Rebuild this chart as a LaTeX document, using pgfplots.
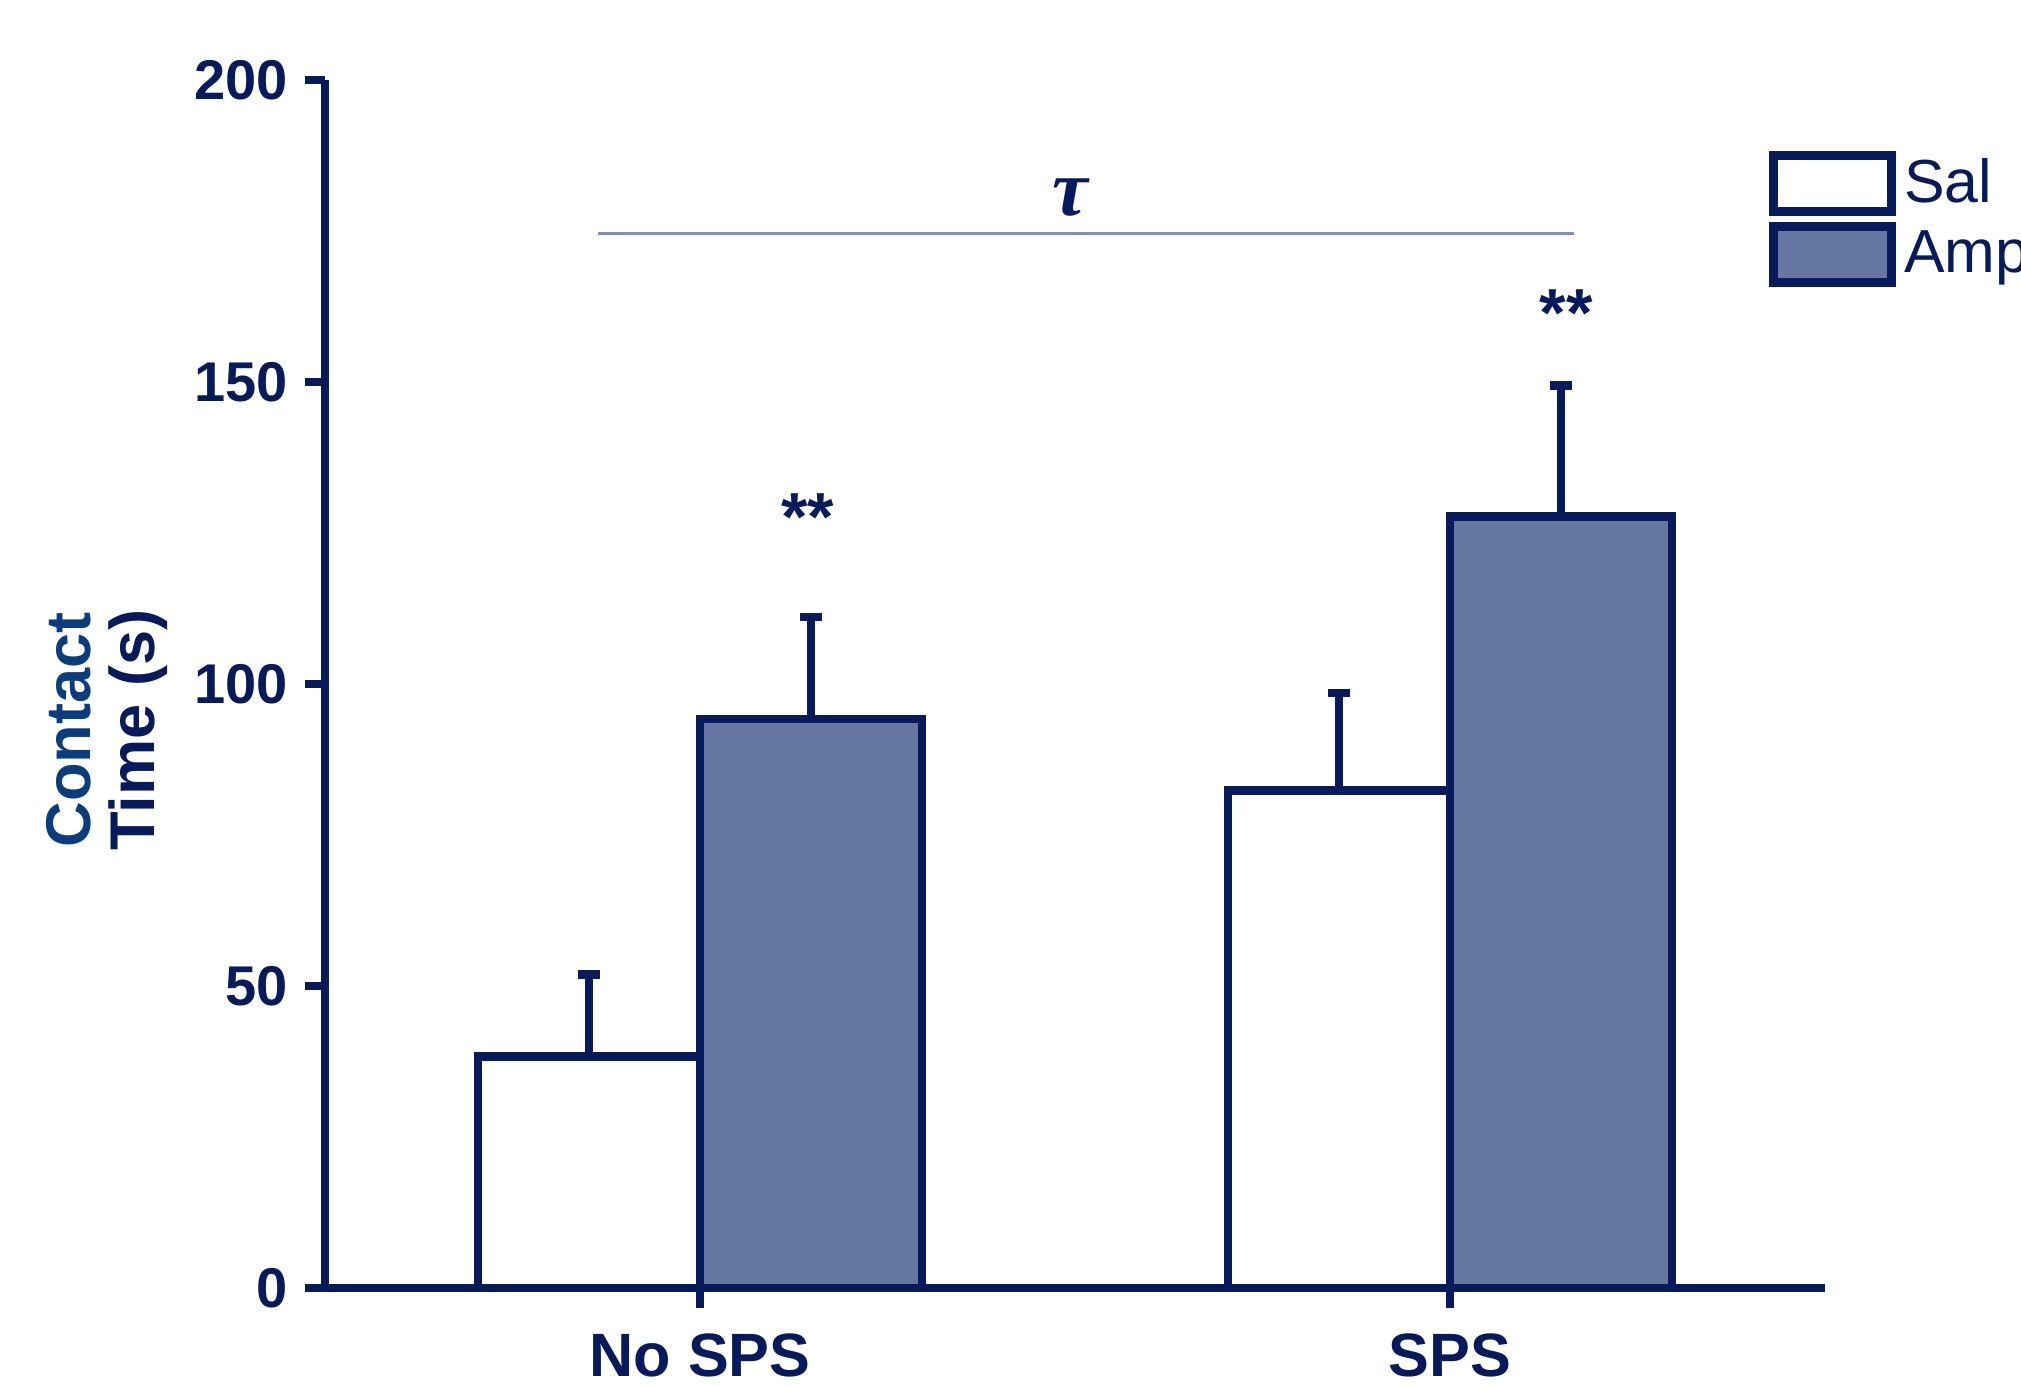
\documentclass[border=0pt]{standalone}
\usepackage{pgfplots}
\pgfplotsset{compat=1.18}
\usepackage{fontspec}
\setmainfont{Liberation Sans}
\newfontfamily\greekfont{Liberation Serif}
\definecolor{navy}{HTML}{061A5C}
\definecolor{ampfill}{HTML}{6577A0}
\definecolor{labblue}{HTML}{0B3C7D}
\definecolor{tauline}{HTML}{7F8FB8}
\begin{document}
\begin{tikzpicture}
\useasboundingbox (-81.25pt,-24.5pt) rectangle (424pt,322pt);
\clip (-81.25pt,-24.5pt) rectangle (424pt,322pt);
\begin{axis}[
  at={(0pt,0pt)}, anchor=south west,
  width=375pt, height=302pt, scale only axis,
  xmin=-0.5, xmax=1.5, ymin=0, ymax=200,
  axis lines=left,
  axis line style={-, line width=2.2pt, draw=navy},
  xtick={0,1}, xticklabels={No SPS, SPS},
  ytick={0,50,100,150,200},
  tick align=outside, major tick length=5pt,
  tick style={line width=2.2pt, draw=navy},
  x tick label style={font=\fontsize{15.3}{15.3}\selectfont\bfseries, text=navy, yshift=-3pt},
  y tick label style={font=\fontsize{14}{14}\selectfont\bfseries, text=navy, xshift=-0.7pt},
  /pgf/number format/assume math mode=true,
  ybar=0pt, bar width=0.296,
  clip=false,
  legend cell align=left,
  legend image code/.code={\draw[#1, line width=2.2pt] (0pt,-7pt) rectangle (29.6pt,7pt);},
  legend style={at={(axis cs:1.424,188.5)}, anchor=north west, draw=none, fill=none,
    inner sep=0pt, row sep=1.5pt, font=\fontsize{15.2}{15.2}\selectfont, text=navy,
    /tikz/every even column/.append style={column sep=5.6pt}},
]
\addplot[fill=white, draw=navy, line width=2.2pt, bar shift=-0.148,
  error bars/.cd, y dir=plus, y explicit,
  error bar style={line width=2.2pt, draw=navy},
  error mark options={rotate=90, line width=2.2pt, mark size=2.75pt, draw=navy}]
  coordinates {(0,38.3) +- (0,13.6) (1,82.4) +- (0,16.1)};
\addplot[fill=ampfill, draw=navy, line width=2.2pt, bar shift=0.148,
  error bars/.cd, y dir=plus, y explicit,
  error bar style={line width=2.2pt, draw=navy},
  error mark options={rotate=90, line width=2.2pt, mark size=2.75pt, draw=navy}]
  coordinates {(0,94.2) +- (0,16.9) (1,127.8) +- (0,21.6)};
\legend{Sal, Amp}
\draw[tauline, line width=0.9pt] (axis cs:-0.136,174.6) -- (axis cs:1.165,174.6);
\node[font=\fontsize{20}{20}\selectfont\greekfont\bfseries\itshape, text=navy] at (axis cs:0.493,180.6) {τ};
\node[font=\fontsize{17}{17}\selectfont\bfseries, text=navy] at ([yshift=-2pt]axis cs:0.144,129) {**};
\node[font=\fontsize{17}{17}\selectfont\bfseries, text=navy] at ([yshift=-2pt]axis cs:1.155,162.7) {**};
\node[rotate=90, align=center, font=\fontsize{15.8}{16}\selectfont\bfseries]
  at ([xshift=-54.5pt]axis cs:-0.5,92.4) {\textcolor{labblue}{Contact}\\\textcolor{navy}{Time (s)}};
\end{axis}
\end{tikzpicture}
\end{document}
